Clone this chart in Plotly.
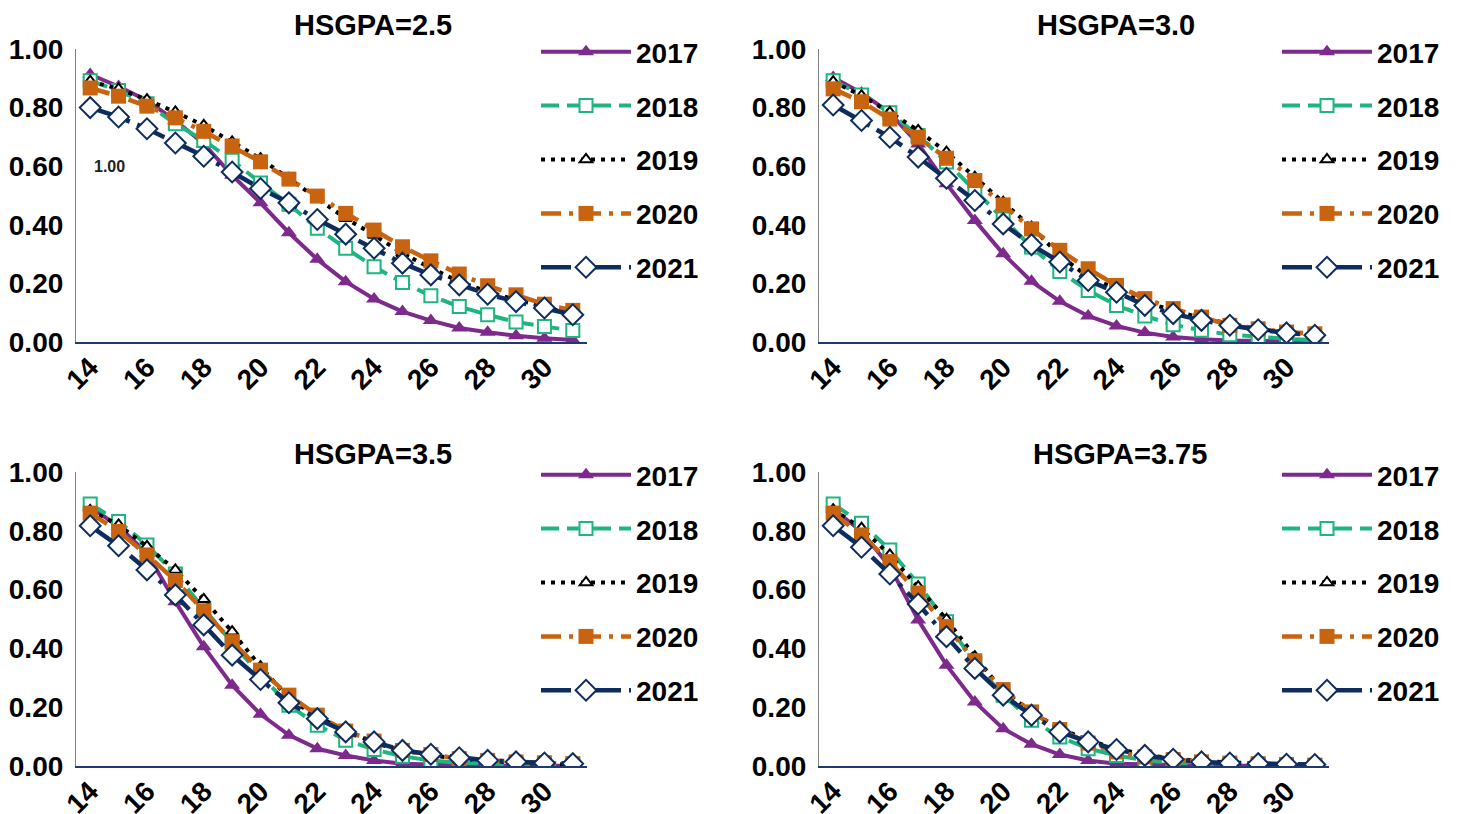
import plotly.graph_objects as go

# ---------------- data ----------------
ages = list(range(14, 32))
x_tick_vals = [14, 16, 18, 20, 22, 24, 26, 28, 30]
x_tick_text = ["14", "16", "18", "20", "22", "24", "26", "28", "30"]
y_tick_vals = [0.0, 0.2, 0.4, 0.6, 0.8, 1.0]
y_tick_text = ["0.00", "0.20", "0.40", "0.60", "0.80", "1.00"]
years = ["2017", "2018", "2019", "2020", "2021"]
panel_titles = ["HSGPA=2.5", "HSGPA=3.0", "HSGPA=3.5", "HSGPA=3.75"]

gpa25_2017 = [0.913, 0.872, 0.824, 0.756, 0.677, 0.569, 0.475, 0.373, 0.282, 0.206, 0.147, 0.104, 0.073, 0.048, 0.033, 0.021, 0.013, 0.007]
gpa25_2018 = [0.892, 0.858, 0.813, 0.745, 0.688, 0.620, 0.543, 0.470, 0.388, 0.320, 0.257, 0.203, 0.158, 0.121, 0.093, 0.068, 0.053, 0.039]
gpa25_2019 = [0.890, 0.864, 0.827, 0.785, 0.739, 0.683, 0.626, 0.558, 0.490, 0.422, 0.365, 0.303, 0.252, 0.206, 0.172, 0.144, 0.121, 0.093]
gpa25_2020 = [0.867, 0.839, 0.805, 0.765, 0.719, 0.669, 0.615, 0.556, 0.498, 0.439, 0.382, 0.325, 0.277, 0.232, 0.192, 0.161, 0.129, 0.108]
gpa25_2021 = [0.800, 0.768, 0.728, 0.679, 0.634, 0.580, 0.524, 0.475, 0.418, 0.368, 0.320, 0.269, 0.229, 0.195, 0.163, 0.138, 0.116, 0.093]

gpa30_2017 = [0.903, 0.850, 0.782, 0.676, 0.540, 0.415, 0.301, 0.207, 0.139, 0.089, 0.055, 0.032, 0.017, 0.009, 0.005, 0.003, 0.002, 0.001]
gpa30_2018 = [0.892, 0.843, 0.782, 0.705, 0.614, 0.517, 0.420, 0.324, 0.241, 0.176, 0.125, 0.089, 0.059, 0.040, 0.025, 0.017, 0.011, 0.006]
gpa30_2019 = [0.889, 0.841, 0.784, 0.722, 0.648, 0.563, 0.477, 0.392, 0.295, 0.222, 0.182, 0.136, 0.108, 0.082, 0.062, 0.045, 0.032, 0.023]
gpa30_2020 = [0.864, 0.820, 0.761, 0.699, 0.627, 0.551, 0.468, 0.386, 0.313, 0.250, 0.193, 0.148, 0.114, 0.085, 0.057, 0.045, 0.034, 0.028]
gpa30_2021 = [0.809, 0.756, 0.699, 0.631, 0.559, 0.483, 0.403, 0.332, 0.273, 0.210, 0.170, 0.125, 0.097, 0.074, 0.057, 0.042, 0.031, 0.023]

gpa35_2017 = [0.881, 0.815, 0.724, 0.559, 0.406, 0.275, 0.176, 0.105, 0.059, 0.036, 0.019, 0.008, 0.005, 0.003, 0.002, 0.001, 0.001, 0.001]
gpa35_2018 = [0.891, 0.832, 0.752, 0.653, 0.536, 0.419, 0.309, 0.207, 0.139, 0.088, 0.056, 0.033, 0.019, 0.011, 0.008, 0.006, 0.004, 0.003]
gpa35_2019 = [0.869, 0.820, 0.747, 0.667, 0.567, 0.457, 0.338, 0.230, 0.167, 0.122, 0.078, 0.053, 0.036, 0.025, 0.017, 0.011, 0.008, 0.005]
gpa35_2020 = [0.860, 0.798, 0.718, 0.631, 0.528, 0.423, 0.326, 0.241, 0.173, 0.119, 0.085, 0.053, 0.039, 0.025, 0.019, 0.014, 0.011, 0.008]
gpa35_2021 = [0.817, 0.749, 0.667, 0.582, 0.480, 0.377, 0.294, 0.215, 0.161, 0.116, 0.082, 0.053, 0.040, 0.028, 0.019, 0.014, 0.010, 0.008]

gpa375_2017 = [0.874, 0.798, 0.678, 0.497, 0.343, 0.218, 0.127, 0.074, 0.039, 0.019, 0.008, 0.005, 0.003, 0.002, 0.001, 0.001, 0.001, 0.001]
gpa375_2018 = [0.891, 0.826, 0.735, 0.619, 0.491, 0.349, 0.241, 0.156, 0.099, 0.059, 0.036, 0.019, 0.011, 0.008, 0.005, 0.004, 0.003, 0.002]
gpa375_2019 = [0.872, 0.809, 0.718, 0.610, 0.499, 0.372, 0.256, 0.184, 0.127, 0.088, 0.059, 0.039, 0.025, 0.017, 0.011, 0.008, 0.005, 0.003]
gpa375_2020 = [0.860, 0.786, 0.695, 0.588, 0.474, 0.358, 0.260, 0.184, 0.124, 0.078, 0.048, 0.031, 0.022, 0.014, 0.010, 0.008, 0.005, 0.003]
gpa375_2021 = [0.817, 0.744, 0.653, 0.551, 0.440, 0.332, 0.241, 0.173, 0.116, 0.082, 0.056, 0.036, 0.023, 0.014, 0.010, 0.008, 0.006, 0.005]

panels = [
    [gpa25_2017, gpa25_2018, gpa25_2019, gpa25_2020, gpa25_2021],
    [gpa30_2017, gpa30_2018, gpa30_2019, gpa30_2020, gpa30_2021],
    [gpa35_2017, gpa35_2018, gpa35_2019, gpa35_2020, gpa35_2021],
    [gpa375_2017, gpa375_2018, gpa375_2019, gpa375_2020, gpa375_2021],
]

stray_label_text = "1.00"
stray_label_x = 14.06
stray_label_y = 0.60

# ---------------- styles ----------------
W, H = 1458, 814
OFF = 8  # page body margin of the browser; positions below are screen pixels
FONT = "Liberation Sans, Arial, sans-serif"

styles = [
    dict(color="#7D2A8C", width=4, dash="solid",
         marker=dict(symbol="triangle-up", size=14, color="#7D2A8C", line=dict(width=0))),
    dict(color="#1EB57F", width=4, dash="18px,8px",
         marker=dict(symbol="square", size=13, color="white", line=dict(width=2, color="#1EB57F"))),
    dict(color="#000000", width=4, dash="4px,6px",
         marker=dict(symbol="triangle-up", size=11, color="white", line=dict(width=2, color="#000000"))),
    dict(color="#C8640F", width=4.5, dash="20px,8px,4px,8px",
         marker=dict(symbol="square", size=15, color="#C8640F", line=dict(width=0))),
    dict(color="#0C2D5E", width=4.5, dash="30px,8px,4px,8px",
         marker=dict(symbol="diamond", size=16, color="white", line=dict(width=2, color="#0C2D5E"))),
]

# screen-pixel geometry of the four plot areas (left, right, top, bottom)
areas = [
    (76, 587, 49, 342),
    (819, 1329, 49, 342),
    (76, 587, 472, 766),
    (819, 1329, 472, 766),
]
legend_pos = [(536, 27), (1277, 27), (536, 450), (1277, 450)]
title_pos = [(373, 25), (1116, 25), (373, 454), (1120, 454)]


def px(x):
    return (x - OFF) / W


def py(y):
    return 1 - (y - OFF) / H


fig = go.Figure()
legend_names = ["legend", "legend2", "legend3", "legend4"]

for p, series in enumerate(panels):
    xa = "x" if p == 0 else f"x{p+1}"
    ya = "y" if p == 0 else f"y{p+1}"
    for s, vals in enumerate(series):
        st = styles[s]
        fig.add_trace(go.Scatter(
            x=ages, y=vals, name=years[s], mode="lines+markers",
            xaxis=xa, yaxis=ya, legend=legend_names[p],
            legendgroup=f"p{p}_{years[s]}",
            line=dict(color=st["color"], width=st["width"], dash=st["dash"]),
            marker=st["marker"], hoverinfo="x+y+name",
        ))

layout = dict(
    width=W, height=H, margin=dict(l=0, r=0, t=0, b=0, autoexpand=False),
    paper_bgcolor="white", plot_bgcolor="white",
    font=dict(family=FONT, size=28, color="#000000", weight="bold"),
    showlegend=True,
)

for p, (l, r, t, b) in enumerate(areas):
    xk = "xaxis" if p == 0 else f"xaxis{p+1}"
    yk = "yaxis" if p == 0 else f"yaxis{p+1}"
    yref = "y" if p == 0 else f"y{p+1}"
    xref = "x" if p == 0 else f"x{p+1}"
    layout[xk] = dict(
        domain=[px(l), px(r)], anchor=yref, range=[13.5, 31.5],
        tickmode="array", tickvals=x_tick_vals, ticktext=x_tick_text,
        tickangle=-45, showgrid=False, zeroline=False, automargin=False,
        showline=True, linecolor="#1F3A70", linewidth=1.5,
        ticks="", ticklabelstandoff=-4,
        tickfont=dict(family=FONT, size=28, weight="bold", color="#000"),
        fixedrange=True,
    )
    layout[yk] = dict(
        domain=[py(b), py(t)], anchor=xref, range=[0, 1],
        tickmode="array", tickvals=y_tick_vals, ticktext=y_tick_text,
        showgrid=False, zeroline=False, showline=True, linecolor="#808080", linewidth=1.2,
        ticks="", ticklabelstandoff=6, automargin=False,
        tickfont=dict(family=FONT, size=28, weight="bold", color="#000"),
        fixedrange=True,
    )
    lx, ly = legend_pos[p]
    layout[legend_names[p]] = dict(
        x=px(lx), y=py(ly), xanchor="left", yanchor="top",
        xref="paper", yref="paper",
        font=dict(family=FONT, size=28, weight="bold", color="#000"),
        bgcolor="rgba(0,0,0,0)", tracegroupgap=14.5, itemwidth=90,
        itemclick=False, itemdoubleclick=False,
    )

annotations = []
for p, (tx, ty) in enumerate(title_pos):
    annotations.append(dict(
        text=panel_titles[p], x=px(tx), y=py(ty), xref="paper", yref="paper",
        xanchor="center", yanchor="middle", showarrow=False,
        font=dict(family=FONT, size=29, weight="bold", color="#000"),
    ))
annotations.append(dict(
    text=stray_label_text, x=stray_label_x, y=stray_label_y, xref="x", yref="y",
    xanchor="left", yanchor="middle", showarrow=False,
    font=dict(family=FONT, size=16, weight="bold", color="#222"),
))
layout["annotations"] = annotations

fig.update_layout(**layout)
fig.write_html("out.html", config={"displayModeBar": False})
